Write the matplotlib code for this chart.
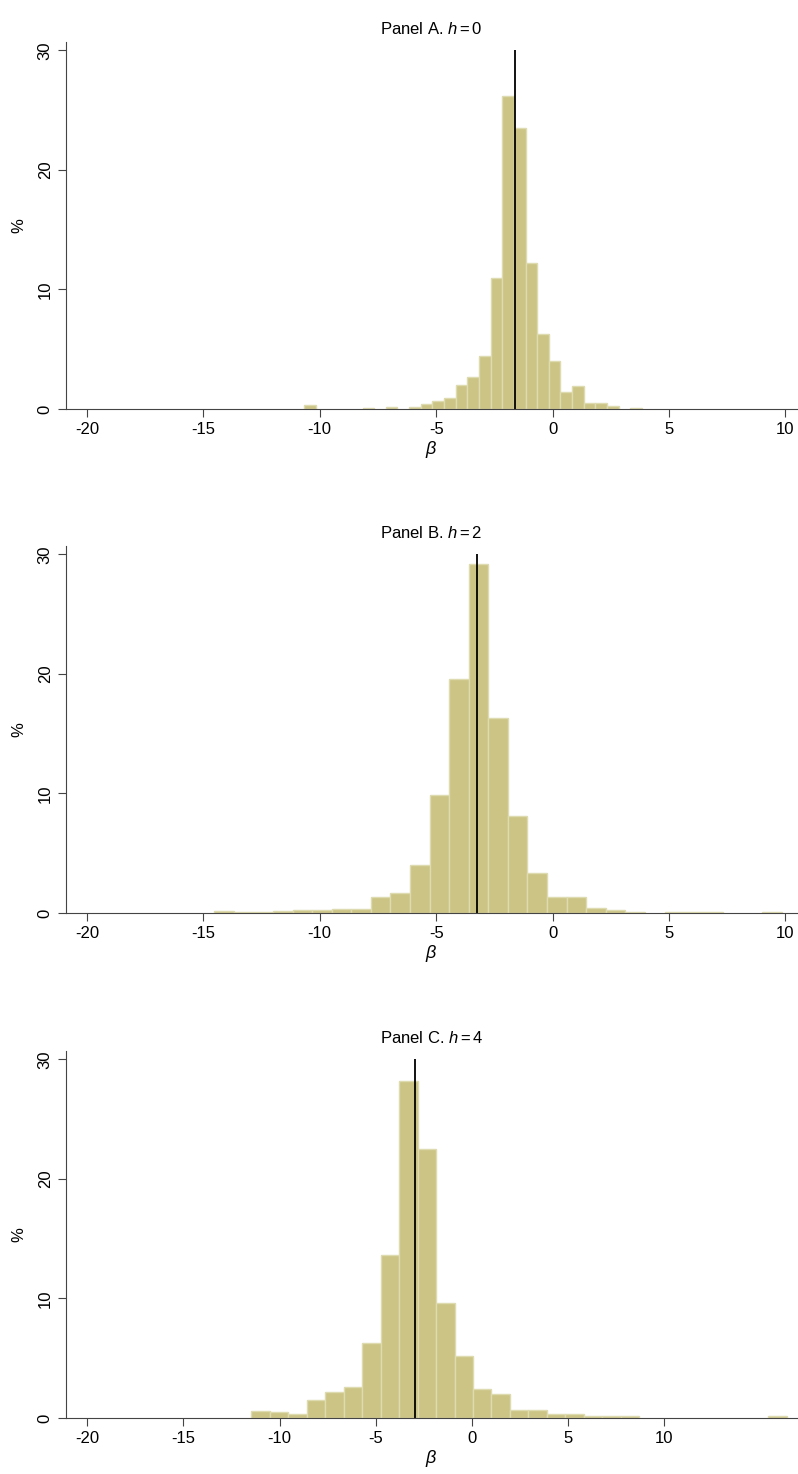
import numpy as np
import matplotlib
matplotlib.use('Agg')
import matplotlib.pyplot as plt

plt.rcParams['font.family'] = ['Liberation Sans', 'DejaVu Sans']
plt.rcParams['axes.unicode_minus'] = False
plt.rcParams['mathtext.fontset'] = 'custom'
plt.rcParams['mathtext.it'] = 'Liberation Sans:italic'
plt.rcParams['mathtext.rm'] = 'Liberation Sans'

# --- datos: bin index (relative to tallest bin), height in % ---
a_k = [-17, -12, -10, -8, -7, -6, -5, -4, -3, -2, -1, 0, 1, 2, 3, 4, 5, 6, 7, 8, 9, 11]
a_h = [0.3, 0.1, 0.15, 0.15, 0.4, 0.67, 0.9, 2.0, 2.7, 4.45, 11.0, 26.2, 23.5, 12.2, 6.3, 4.0, 1.45, 1.9, 0.5, 0.5, 0.25, 0.1]
a_edge, a_w, a_line = -2.16, 0.5, -1.62

b_k = [-13, -12, -11, -10, -9, -8, -7, -6, -5, -4, -3, -2, -1, 0, 1, 2, 3, 4, 5, 6, 7, 8, 10, 11, 12, 15]
b_h = [0.17, 0.08, 0.08, 0.14, 0.22, 0.22, 0.33, 0.33, 1.31, 1.65, 4.04, 9.83, 19.55, 29.2, 16.3, 8.1, 3.34, 1.31, 1.31, 0.42, 0.25, 0.08, 0.06, 0.06, 0.06, 0.08]
b_edge, b_w, b_line = -3.60, 0.841, -3.23

c_k = [-8, -7, -6, -5, -4, -3, -2, -1, 0, 1, 2, 3, 4, 5, 6, 7, 8, 9, 10, 11, 12, 20]
c_h = [0.61, 0.50, 0.31, 1.50, 2.2, 2.6, 6.3, 13.6, 28.2, 22.5, 9.6, 5.2, 2.4, 2.0, 0.7, 0.7, 0.33, 0.33, 0.14, 0.2, 0.14, 0.14]
c_edge, c_w, c_line = -3.78, 0.96, -2.94

paneles = [
    ("Panel A. ", "h{=}0", a_k, a_h, a_edge, a_w, a_line, (-20.9, 10.5), [-20, -15, -10, -5, 0, 5, 10]),
    ("Panel B. ", "h{=}2", b_k, b_h, b_edge, b_w, b_line, (-20.9, 10.5), [-20, -15, -10, -5, 0, 5, 10]),
    ("Panel C. ", "h{=}4", c_k, c_h, c_edge, c_w, c_line, (-21.1, 16.9), [-20, -15, -10, -5, 0, 5, 10]),
]

fig = plt.figure(figsize=(7.98, 14.74), dpi=100)
bottoms = [0.7225, 0.3806, 0.038]

for (tit, tit_it, ks, hs, edge, w, vline, xl, xt), b in zip(paneles, bottoms):
    ax = fig.add_axes([0.0827, b, 0.916, 0.249])
    lefts = edge + w * np.array(ks)
    ax.bar(lefts, hs, width=w, align='edge', color='#cbc485', edgecolor='#dedbb0', linewidth=1.0)
    ax.vlines(vline, 0, 30, color='black', linewidth=1.3)
    ax.set_xlim(*xl)
    ax.set_ylim(0, 30.7)
    ax.set_xticks(xt)
    ax.set_yticks([0, 10, 20, 30])
    ax.tick_params(labelsize=12, length=6, color='#444444')
    for lab in ax.get_yticklabels():
        lab.set_rotation(90)
        lab.set_va('center')
    ax.spines['top'].set_visible(False)
    ax.spines['right'].set_visible(False)
    ax.spines['left'].set_color('#444444')
    ax.spines['bottom'].set_color('#444444')
    ax.set_ylabel('%', fontsize=12, labelpad=8)
    ax.set_xlabel(r'$\beta$', fontsize=13, labelpad=1)
    ax.set_title(tit + r'$\mathit{' + tit_it + '}$', fontsize=12, pad=6)

fig.savefig('out.png', dpi=100)
